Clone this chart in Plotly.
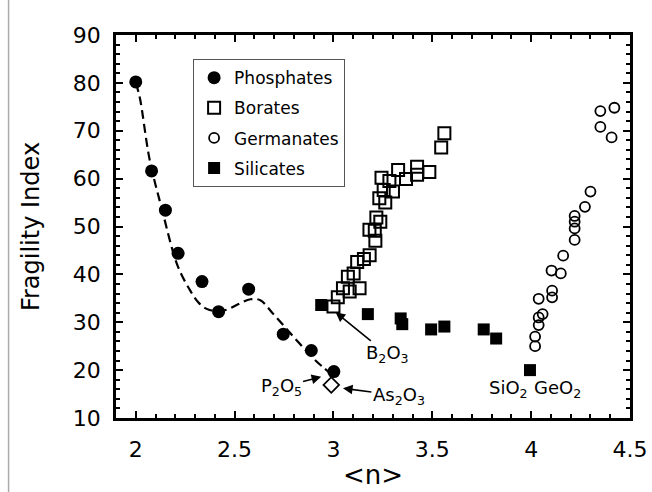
import plotly.graph_objects as go

# ---------------- data ----------------
phos_x = [2.00, 2.08, 2.15, 2.214, 2.335, 2.419, 2.571, 2.746, 2.888, 3.002]
phos_y = [80.2, 61.6, 53.4, 44.4, 38.5, 32.2, 36.9, 27.5, 24.1, 19.7]

fit_x = [2.00, 2.02, 2.07, 2.13, 2.21, 2.27, 2.32, 2.37, 2.45, 2.52, 2.58, 2.63, 2.69, 2.78, 2.89, 2.95, 2.98]
fit_y = [80.0, 77.0, 64.0, 54.0, 42.0, 37.0, 34.0, 32.6, 32.5, 33.8, 34.8, 34.6, 32.0, 27.8, 22.8, 20.5, 19.5]

bor_x = [3.561, 3.545, 3.327, 3.423, 3.485, 3.423, 3.367, 3.243, 3.283, 3.254, 3.301, 3.232,
         3.262, 3.217, 3.237, 3.182, 3.209, 3.212, 3.183, 3.154, 3.120, 3.102, 3.073, 3.048,
         3.132, 3.082, 3.022, 3.000]
bor_y = [69.5, 66.5, 61.8, 62.5, 61.4, 60.8, 59.9, 60.2, 59.5, 57.6, 57.3, 55.9,
         55.0, 51.9, 51.0, 49.3, 49.1, 47.0, 44.0, 43.2, 42.6, 40.2, 39.5, 37.1,
         37.1, 36.4, 35.2, 33.3]

ger_x = [4.421, 4.350, 4.350, 4.407, 4.300, 4.272, 4.220, 4.220, 4.220, 4.220, 4.162,
         4.103, 4.150, 4.106, 4.106, 4.038, 4.058, 4.038, 4.038, 4.020, 4.020]
ger_y = [74.8, 74.1, 70.8, 68.6, 57.3, 54.1, 52.2, 51.0, 49.6, 47.2, 43.9,
         40.8, 40.2, 36.6, 35.2, 34.9, 31.7, 31.0, 29.4, 27.0, 25.0]

sil_x = [2.938, 3.174, 3.340, 3.348, 3.494, 3.561, 3.760, 3.823, 3.994]
sil_y = [33.6, 31.7, 30.8, 29.6, 28.5, 29.1, 28.5, 26.6, 20.0]

as_x = [2.989]
as_y = [16.9]

x_ticks = [2, 2.5, 3, 3.5, 4, 4.5]
x_ticktext = ["2", "2.5", "3", "3.5", "4", "4.5"]
y_ticks = [10, 20, 30, 40, 50, 60, 70, 80, 90]

FONT = "DejaVu Sans"

fig = go.Figure()

fig.add_trace(go.Scatter(x=fit_x, y=fit_y, mode="lines",
                         line=dict(color="black", width=2.2, dash="9px,5px", shape="spline"),
                         showlegend=False, hoverinfo="skip"))
fig.add_trace(go.Scatter(x=phos_x, y=phos_y, mode="markers", name="Phosphates", legendgroup="a",
                         marker=dict(symbol="circle", size=13, color="black")))
fig.add_trace(go.Scatter(x=bor_x, y=bor_y, mode="markers", name="Borates", legendgroup="b",
                         marker=dict(symbol="square-open", size=12, color="black", line=dict(width=2, color="black"))))
fig.add_trace(go.Scatter(x=ger_x, y=ger_y, mode="markers", name="Germanates", legendgroup="c",
                         marker=dict(symbol="circle-open", size=10, color="black", line=dict(width=1.8, color="black"))))
fig.add_trace(go.Scatter(x=sil_x, y=sil_y, mode="markers", name="Silicates", legendgroup="d",
                         marker=dict(symbol="square", size=12, color="black")))
fig.add_trace(go.Scatter(x=as_x, y=as_y, mode="markers", showlegend=False,
                         marker=dict(symbol="diamond-open", size=12, color="black", line=dict(width=1.8, color="black"))))

axis_common = dict(showline=True, linecolor="black", linewidth=2.5, mirror="ticks", ticks="inside",
                   tickcolor="black", tickwidth=2, ticklen=7, showgrid=False, zeroline=False,
                   automargin=False, tickfont=dict(family=FONT, size=22, color="black"))

fig.update_xaxes(range=[1.9, 4.5], tickvals=x_ticks, ticktext=x_ticktext,
                 minor=dict(dtick=0.1, tick0=2, ticks="inside", ticklen=4, tickwidth=1.5, tickcolor="black"),
                 title=dict(text="&lt;n&gt;", font=dict(family=FONT, size=26, color="black"), standoff=5),
                 ticklabelstandoff=10, **axis_common)
fig.update_yaxes(range=[10, 90], tickvals=y_ticks,
                 minor=dict(dtick=2, tick0=10, ticks="inside", ticklen=4, tickwidth=1.5, tickcolor="black"),
                 title=dict(text="Fragility Index", font=dict(family=FONT, size=24, color="black"), standoff=27),
                 ticklabelstandoff=8, **axis_common)

def label(x, y, text, head=None):
    if head is not None:
        fig.add_annotation(x=head[0], y=head[1], text=text, xanchor="center", yanchor="middle",
                           showarrow=True, ax=x, ay=y, axref="x", ayref="y", arrowhead=2, arrowsize=1.2,
                           arrowwidth=1.6, arrowcolor="black", standoff=0, startstandoff=0,
                           font=dict(family=FONT, size=18, color="black"))
    else:
        fig.add_annotation(x=x, y=y, text=text, xanchor="center", yanchor="middle", showarrow=False,
                           font=dict(family=FONT, size=18, color="black"))

label(3.273, 23.3, "B<sub>2</sub>O<sub>3</sub>", head=(3.011, 32.1))
label(2.735, 16.4, "P<sub>2</sub>O<sub>5</sub>", head=(2.938, 18.6))
label(3.331, 14.7, "As<sub>2</sub>O<sub>3</sub>", head=(3.048, 16.2))
label(3.885, 16.0, "SiO<sub>2</sub>")
label(4.135, 16.0, "GeO<sub>2</sub>")

fig.add_shape(type="line", xref="paper", yref="paper", x0=-0.209, x1=-0.209, y0=-0.2, y1=1.1,
              line=dict(color="#aaaaaa", width=1.5))

fig.update_layout(
    width=652, height=492,
    margin=dict(l=116, r=22, t=35, b=74),
    paper_bgcolor="white", plot_bgcolor="white",
    font=dict(family=FONT, color="black"),
    legend=dict(x=0.15, y=0.937, xanchor="left", yanchor="top", bgcolor="white",
                bordercolor="#555555", borderwidth=1, tracegroupgap=5,
                font=dict(family=FONT, size=17, color="black")),
)

fig.write_html("out.html")
